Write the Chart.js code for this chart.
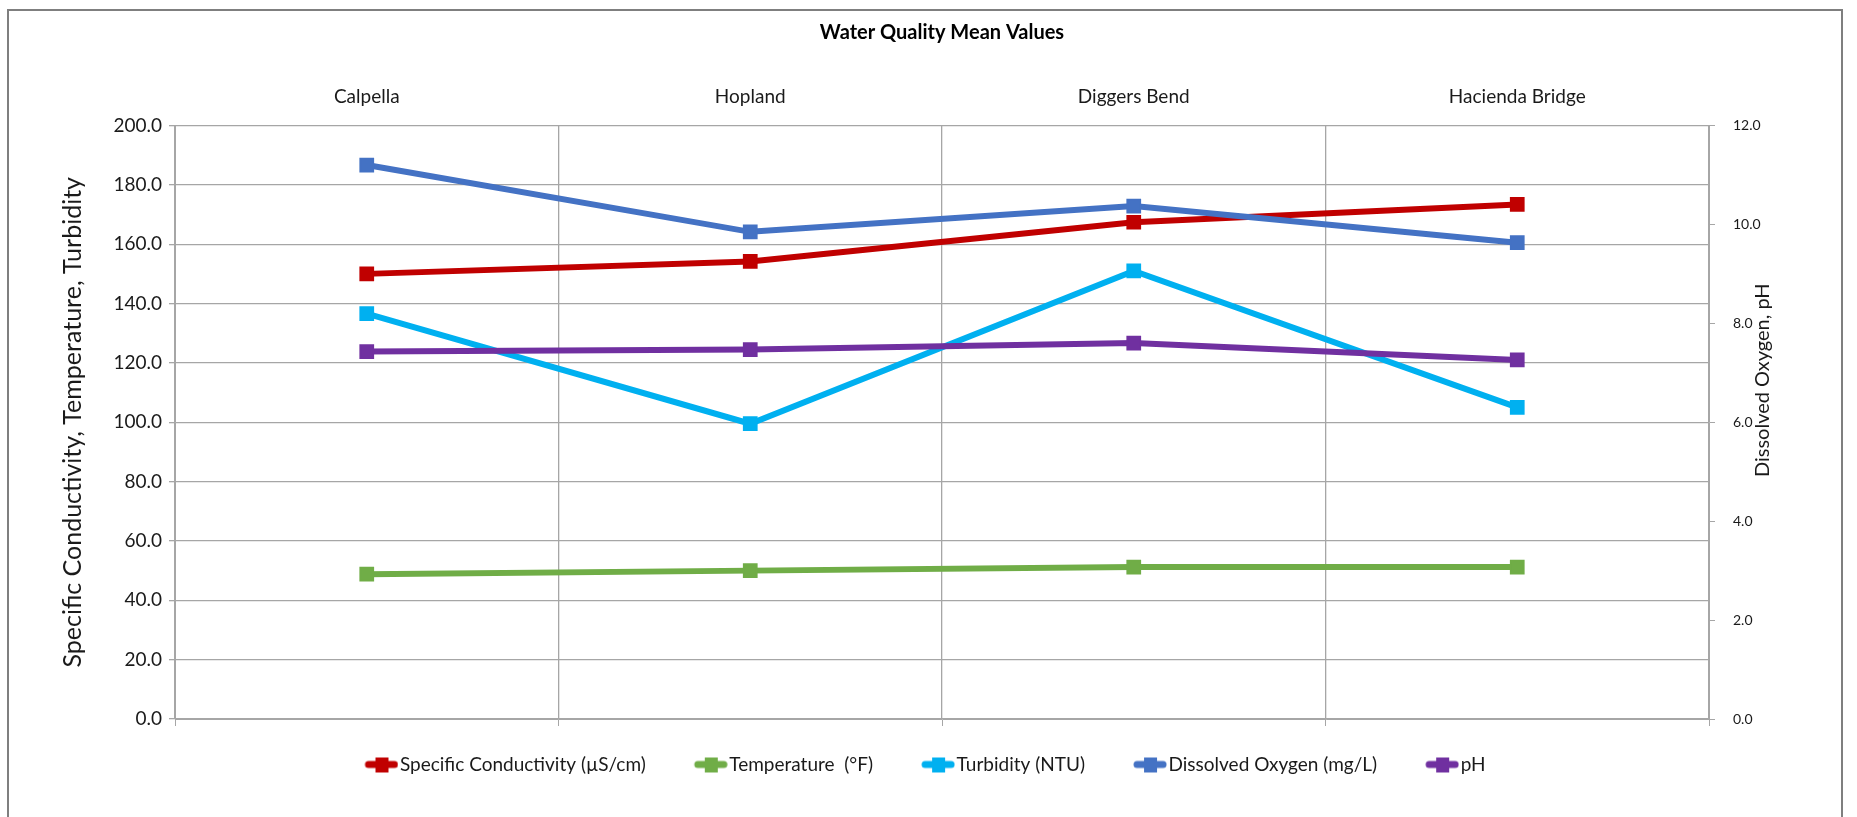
<!DOCTYPE html>
<html>
<head>
<meta charset="utf-8">
<title>Water Quality Mean Values</title>
<script src="https://cdn.jsdelivr.net/npm/chart.js@4.4.0/dist/chart.umd.min.js"></script>
<style>
  html, body { margin: 0; padding: 0; background: #fff; overflow: hidden; }
  #wrap { position: relative; width: 1857px; height: 817px; }
  #frame { position: absolute; left: 7px; top: 9px; width: 1836px; height: 840px; border: 2px solid #7f7f7f; box-sizing: border-box; }
  #chart { position: absolute; left: 0; top: 0; }
</style>
</head>
<body>
<div id="wrap">
  <div id="frame"></div>
  <canvas id="chart" width="1857" height="817"></canvas>
</div>
<script>
// sites along the river
const sites = ['Calpella', 'Hopland', 'Diggers Bend', 'Hacienda Bridge'];

// left axis series
const conductivity = [150.0, 154.2, 167.4, 173.4];
const temperature = [48.8, 50.0, 51.2, 51.2];
const turbidity = [136.6, 99.5, 151.0, 105.0];

// right axis series
const dissolvedOxygen = [11.2, 9.85, 10.37, 9.63];
const ph = [7.43, 7.47, 7.6, 7.26];

const leftTicks = { min: 0, max: 200, step: 20 };
const rightTicks = { min: 0, max: 12, step: 2 };

const FONT = 'Lato, "Open Sans", sans-serif';
const TEXT = '#1a1a1a';
const GRID = '#a6a6a6';

// legend symbol: thick line with a square marker, drawn at the right end
// of a wider canvas so the text sits right next to it
function makeSymbol(color) {
    const c = document.createElement('canvas');
    c.width = 74;
    c.height = 18;
    const g = c.getContext('2d');
    const x0 = c.width - 34;
    g.strokeStyle = color;
    g.lineWidth = 7;
    g.lineCap = 'round';
    g.beginPath();
    g.moveTo(x0 + 4, 9);
    g.lineTo(x0 + 30, 9);
    g.stroke();
    g.fillStyle = color;
    g.fillRect(x0 + 11, 2, 13, 15);
    return c;
}

function series(label, data, color, axis, order) {
    return {
        label: label,
        data: data,
        yAxisID: axis,
        xAxisID: 'x',
        borderColor: color,
        backgroundColor: color,
        borderWidth: 6,
        tension: 0,
        pointStyle: 'rect',
        pointRadius: 9,
        pointBorderWidth: 2,
        pointHoverRadius: 9,
        order: order
    };
}

// titolo dell'asse destro, ruotato come quello sinistro
const rightTitle = {
    id: 'rightTitle',
    afterDraw(chart) {
        const { ctx } = chart;
        const s = chart.scales.y1;
        ctx.save();
        ctx.translate(s.left + 54, s.getPixelForValue(6.85));
        ctx.rotate(-Math.PI / 2);
        ctx.font = '20px ' + FONT;
        ctx.fillStyle = TEXT;
        ctx.textAlign = 'center';
        ctx.textBaseline = 'middle';
        ctx.fillText('Dissolved Oxygen, pH', 0, 0);
        ctx.restore();
    }
};

new Chart(document.getElementById('chart'), {
    type: 'line',
    data: {
        labels: sites,
        datasets: [
            series('Specific Conductivity (\u00b5S/cm)', conductivity, '#C00000', 'y', 5),
            series('Temperature  (\u00b0F)', temperature, '#70AD47', 'y', 4),
            series('Turbidity (NTU)', turbidity, '#00B0F0', 'y', 3),
            series('Dissolved Oxygen (mg/L)', dissolvedOxygen, '#4472C4', 'y1', 2),
            series('pH', ph, '#7030A0', 'y1', 1)
        ]
    },
    options: {
        responsive: false,
        animation: false,
        layout: { padding: { left: 20, right: 59, top: 0, bottom: 33 } },
        plugins: {
            title: {
                display: true,
                fullSize: false,
                text: 'Water Quality Mean Values',
                color: '#000',
                font: { family: FONT, size: 20, weight: 'bold' },
                padding: { top: 21, bottom: 0 }
            },
            legend: {
                position: 'bottom',
                labels: {
                    color: TEXT,
                    font: { family: FONT, size: 19 },
                    usePointStyle: true,
                    pointStyleWidth: 58,
                    padding: 16,
                    sort: (a, b) => a.datasetIndex - b.datasetIndex,
                    generateLabels: chart => chart.data.datasets.map((ds, i) => ({
                        text: ds.label,
                        datasetIndex: i,
                        pointStyle: makeSymbol(ds.borderColor),
                        fillStyle: ds.borderColor,
                        strokeStyle: ds.borderColor,
                        fontColor: TEXT,
                        lineWidth: 0,
                        hidden: false
                    }))
                }
            },
            tooltip: { enabled: false }
        },
        scales: {
            x: {
                position: 'top',
                offset: true,
                grid: { offset: true, color: GRID, lineWidth: 1.3, drawTicks: false },
                border: { display: false },
                ticks: { color: TEXT, font: { family: FONT, size: 19 }, padding: 17 },
                afterFit: s => { s.height = 80.5; }
            },
            xb: {
                position: 'bottom',
                type: 'category',
                labels: sites,
                offset: true,
                grid: { offset: true, drawOnChartArea: false, color: GRID, tickLength: 7 },
                border: { color: GRID },
                ticks: { display: false },
                afterFit: s => { s.height = 20; }
            },
            y: {
                position: 'left',
                min: leftTicks.min,
                max: leftTicks.max,
                grid: { color: GRID, lineWidth: 1.3, tickLength: 6 },
                border: { color: GRID },
                ticks: {
                    stepSize: leftTicks.step,
                    color: TEXT,
                    font: { family: FONT, size: 19 },
                    padding: 7,
                    callback: v => v.toFixed(1)
                },
                title: {
                    display: true,
                    text: 'Specific Conductivity, Temperature, Turbidity',
                    color: TEXT,
                    font: { family: FONT, size: 25 },
                    padding: { top: 38, bottom: 0 }
                },
                afterFit: s => { s.width = 155; }
            },
            y1: {
                position: 'right',
                min: rightTicks.min,
                max: rightTicks.max,
                grid: { drawOnChartArea: false, color: GRID, tickLength: 6 },
                border: { color: GRID },
                ticks: {
                    stepSize: rightTicks.step,
                    color: TEXT,
                    font: { family: FONT, size: 14 },
                    padding: 18,
                    callback: v => v.toFixed(1)
                },
                afterFit: s => { s.width = 89; }
            }
        }
    },
    plugins: [rightTitle]
});
</script>
</body>
</html>
